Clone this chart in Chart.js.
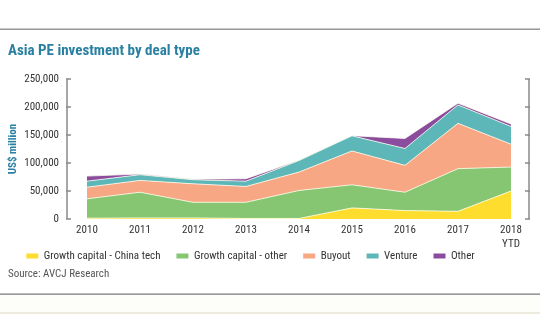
<!DOCTYPE html>
<html><head><meta charset="utf-8">
<script src="https://cdn.jsdelivr.net/npm/chart.js@4/dist/chart.umd.min.js"></script>
<style>
html,body{margin:0;padding:0;background:#fff;width:540px;height:334px;overflow:hidden;position:relative;font-family:Roboto,sans-serif;font-stretch:condensed}
#wrap{position:absolute;left:-28px;top:0;width:568px;height:334px}
.title{position:absolute;left:8px;top:43px;font-weight:bold;font-size:15px;line-height:15px;color:#2a80a2;white-space:nowrap;font-stretch:condensed}
.src{position:absolute;left:8px;top:268px;font-size:11px;line-height:11px;color:#555;white-space:nowrap;font-stretch:condensed}
.ln{position:absolute;left:0;width:540px;height:1px}
</style></head>
<body>
<div class="ln" style="top:28px;background:#c8c8c8"></div>
<div class="ln" style="top:29px;background:#999"></div>
<div class="ln" style="top:293px;background:#bdbdbd"></div>
<div class="ln" style="top:294px;background:#999"></div>
<div class="ln" style="top:295px;height:17px;background:#fdfdf9"></div>
<div class="ln" style="top:312px;height:2px;background:#ecebdd"></div>
<div id="wrap"><canvas id="c" width="568" height="334"></canvas></div>
<div class="title">Asia PE investment by deal type</div>
<div class="src">Source: AVCJ Research</div>
<script>
const categories = ['2010','2011','2012','2013','2014','2015','2016','2017',['2018','YTD']];
const chinaTech   = [1500, 2000, 2000, 1000, 1000, 19800, 15000, 13700, 50000];
const growthOther = [34500, 45800, 27800, 28800, 49900, 41300, 32800, 76200, 42800];
const buyout      = [20800, 21100, 33100, 28300, 32900, 60400, 48000, 80900, 40800];
const venture     = [10800, 10200, 7200, 9500, 20500, 27000, 30100, 32900, 31700];
const other       = [9000, 1100, 900, 4300, 500, 300, 17900, 3100, 4300];
const yTicks = [0, 50000, 100000, 150000, 200000, 250000];

const seriesNames = ['Growth capital - China tech','Growth capital - other','Buyout','Venture','Other'];
const seriesData = [chinaTech, growthOther, buyout, venture, other];
const colors = ['#fedd2e','#86c672','#f7a784','#5db6b8','#8c4c9e'];

const FONT = "Roboto, sans-serif";
// 'condensed' is passed through the weight slot so the canvas font string selects Roboto Condensed
const fontN = {size: 11, family: FONT, weight: 'condensed'};
const fontB = {size: 11, family: FONT, weight: 'bold condensed'};
Chart.defaults.font.family = FONT;
Chart.defaults.font.size = 11;
Chart.defaults.font.weight = 'condensed';
Chart.defaults.color = '#333';

const axisPlugin = {
  id: 'axisLines',
  afterLayout(chart) {
    // lift the legend so it sits just under the two-line x labels
    const d = 16.5;
    chart.legend.top -= d;
    chart.legend.bottom -= d;
  },
  afterDatasetsDraw(chart) {
    const {ctx, chartArea: a, scales: {y}} = chart;
    ctx.save();
    ctx.strokeStyle = '#8a8a8a';
    ctx.lineWidth = 1.5;
    const top = y.getPixelForValue(yTicks[yTicks.length - 1]);
    const bot = y.getPixelForValue(0);
    [a.left, a.right].forEach((x, k) => {
      ctx.beginPath();
      ctx.moveTo(x, top); ctx.lineTo(x, bot); ctx.stroke();
      yTicks.forEach(v => {
        const py = y.getPixelForValue(v);
        ctx.beginPath();
        if (k === 0) { ctx.moveTo(x - 1, py); ctx.lineTo(x + 4, py); }
        else { ctx.moveTo(x - 4, py); ctx.lineTo(x + 1, py); }
        ctx.stroke();
      });
    });
    ctx.restore();
  }
};

new Chart(document.getElementById('c'), {
  type: 'line',
  data: {
    datasets: seriesNames.map((name, i) => ({
      label: name,
      data: seriesData[i].map((v, j) => ({x: j, y: v})),
      backgroundColor: colors[i],
      borderColor: 'rgba(255,255,240,0.75)',
      borderWidth: 1,
      pointRadius: 0,
      tension: 0,
      fill: i === 0 ? 'origin' : '-1'
    }))
  },
  options: {
    responsive: false,
    devicePixelRatio: 1,
    animation: false,
    layout: {padding: {top: 79, right: 11, bottom: 46, left: 0}},
    plugins: {
      tooltip: {enabled: false},
      legend: {
        position: 'bottom',
        labels: {
          boxWidth: 12, boxHeight: 5, padding: 16, color: '#333',
          font: fontN,
          generateLabels(chart) {
            const items = Chart.defaults.plugins.legend.labels.generateLabels(chart);
            items.forEach((it, i) => { it.fillStyle = colors[i]; it.strokeStyle = colors[i]; it.lineWidth = 0; });
            return items;
          }
        }
      }
    },
    scales: {
      x: {
        type: 'linear', min: -0.377, max: 8.34,
        grid: {display: false, drawTicks: false},
        border: {display: false},
        afterBuildTicks(scale) { scale.ticks = categories.map((c, i) => ({value: i})); },
        afterFit(scale) { scale.height = 32; },
        ticks: {
          padding: 5, color: '#333', maxRotation: 0, autoSkip: false,
          font: fontN,
          callback: (v) => categories[v]
        }
      },
      y: {
        stacked: true, min: 0, max: 250000,
        grid: {display: false, drawTicks: false},
        border: {display: false},
        afterBuildTicks(scale) { scale.ticks = yTicks.map(v => ({value: v})); },
        afterFit(scale) { scale.width = 95; },
        ticks: {
          padding: 8, color: '#333',
          font: fontN,
          callback: (v) => v.toLocaleString('en-US')
        },
        title: {
          display: true, text: 'US$ million', color: '#2a80a2',
          font: fontB,
          padding: {top: 35, bottom: 0}
        }
      }
    }
  },
  plugins: [axisPlugin]
});
</script>
</body></html>
